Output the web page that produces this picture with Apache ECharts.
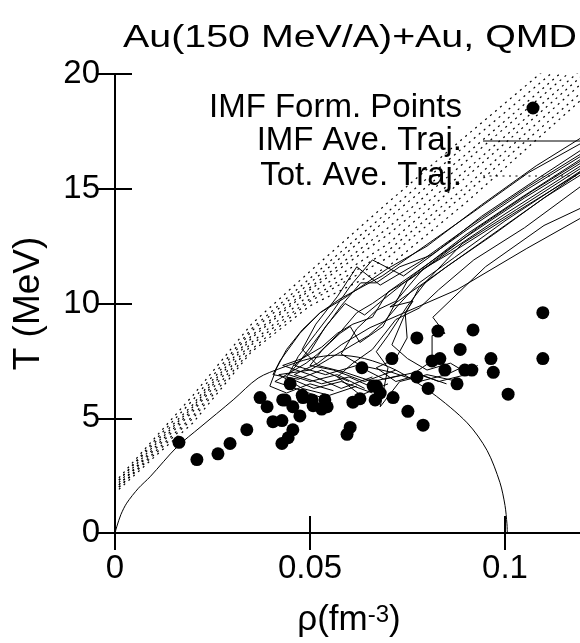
<!DOCTYPE html>
<html>
<head>
<meta charset="utf-8">
<script src="https://cdn.jsdelivr.net/npm/echarts@6/dist/echarts.min.js"></script>
<style>
  html, body { margin: 0; padding: 0; background: #fff; }
  #chart { width: 580px; height: 643px; }
</style>
</head>
<body>
<div id="chart"></div>
<script>
const FONT = '"Liberation Sans", Arial, Helvetica, sans-serif';

// axis ranges
const rhoMin = 0, rhoMax = 0.12, rhoStep = 0.05;
const tMin = 0, tMax = 20, tStep = 5;

const titleText = 'Au(150 MeV/A)+Au, QMD';
const legendLabels = ['IMF Form. Points', 'IMF Ave. Traj.', 'Tot. Ave. Traj.'];

// IMF formation points [rho, T]
const formationPoints = [
  [0.0164, 3.95], [0.021, 3.2], [0.0264, 3.45], [0.0295, 3.9], [0.0338, 4.5],
  [0.0372, 5.9], [0.039, 5.5], [0.0405, 4.85], [0.0428, 4.9], [0.0436, 5.8],
  [0.0449, 6.5], [0.0456, 5.5], [0.0456, 4.5], [0.0428, 3.9], [0.0444, 4.15],
  [0.048, 6.0], [0.0474, 5.1], [0.0505, 5.8], [0.053, 5.4], [0.0538, 5.8],
  [0.0508, 5.55], [0.0544, 5.5], [0.0633, 7.2], [0.061, 5.7], [0.0628, 5.85],
  [0.0603, 4.6], [0.0595, 4.3], [0.0667, 5.8], [0.067, 6.4], [0.068, 6.1],
  [0.0713, 5.9], [0.0751, 5.3], [0.0774, 8.5], [0.079, 4.7], [0.071, 7.6],
  [0.0774, 6.8], [0.0803, 6.3], [0.0813, 7.5], [0.0833, 7.6], [0.0828, 8.8],
  [0.0846, 7.1], [0.0877, 6.5], [0.0885, 8.0], [0.0897, 7.1], [0.0915, 7.1],
  [0.0918, 8.85], [0.0964, 7.6], [0.097, 7.0], [0.1008, 6.05], [0.1097, 9.6],
  [0.1097, 7.6], [0.0662, 6.4], [0.043, 5.8], [0.0482, 5.9]
];

// IMF average trajectories [rho, T]
const imfTraj01 = [[0.125, 17.8], [0.108, 16.0], [0.094, 14.3], [0.08, 12.5], [0.0697, 11.5], [0.0628, 10.7], [0.0585, 10.2], [0.0526, 9.6], [0.0474, 8.7], [0.0423, 7.5], [0.0405, 6.9], [0.047, 6.7], [0.053, 7.1], [0.06, 6.6]];
const imfTraj02 = [[0.125, 17.5], [0.106, 15.7], [0.092, 14.0], [0.0777, 12.3], [0.0685, 11.2], [0.0577, 10.2], [0.0526, 9.6], [0.048, 8.85], [0.044, 8.0], [0.0415, 7.2], [0.0397, 6.4], [0.044, 6.1], [0.05, 6.5], [0.056, 6.2]];
const imfTraj03 = [[0.125, 17.3], [0.108, 15.4], [0.094, 13.8], [0.082, 12.2], [0.074, 11.2], [0.066, 11.9], [0.0605, 10.8], [0.056, 9.7], [0.0515, 8.7], [0.047, 7.7], [0.0445, 6.9], [0.05, 6.6], [0.057, 6.9], [0.064, 6.3]];
const imfTraj04 = [[0.125, 17.1], [0.106, 15.1], [0.092, 13.5], [0.078, 11.8], [0.068, 10.8], [0.062, 11.6], [0.057, 10.3], [0.0515, 9.1], [0.048, 8.0], [0.052, 7.3], [0.059, 7.0], [0.066, 6.6], [0.074, 6.9]];
const imfTraj05 = [[0.125, 16.9], [0.104, 14.6], [0.09, 13.0], [0.077, 11.3], [0.069, 10.2], [0.064, 9.5], [0.059, 10.0], [0.054, 9.0], [0.05, 7.9], [0.046, 7.3], [0.054, 6.9], [0.062, 7.3], [0.069, 6.7], [0.077, 7.0]];
const imfTraj06 = [[0.125, 16.7], [0.105, 14.6], [0.09, 12.9], [0.0775, 11.4], [0.07, 10.5], [0.066, 9.4], [0.061, 9.1], [0.057, 8.7], [0.053, 8.1], [0.048, 7.6], [0.043, 7.3], [0.05, 6.9], [0.058, 6.3], [0.066, 6.8]];
const imfTraj07 = [[0.125, 16.6], [0.1, 13.9], [0.086, 12.3], [0.075, 11.0], [0.0687, 9.0], [0.0628, 8.3], [0.0603, 9.0], [0.0577, 8.7], [0.0533, 8.0], [0.05, 7.3], [0.056, 7.1], [0.064, 6.6], [0.072, 7.1]];
const imfTraj08 = [[0.125, 16.4], [0.1, 13.6], [0.087, 12.0], [0.078, 10.9], [0.073, 10.0], [0.069, 9.2], [0.065, 8.6], [0.06, 8.1], [0.055, 7.6], [0.05, 7.1], [0.042, 6.9], [0.048, 6.3], [0.055, 6.0], [0.062, 6.4]];
const imfTraj09 = [[0.125, 16.3], [0.102, 13.9], [0.088, 12.4], [0.079, 11.5], [0.072, 10.1], [0.067, 9.7], [0.062, 8.9], [0.058, 7.8], [0.063, 7.3], [0.071, 7.0], [0.078, 6.6], [0.085, 6.9], [0.09, 7.3]];
const imfTraj10 = [[0.125, 16.1], [0.1192, 15.7], [0.095, 12.8], [0.0705, 9.85], [0.0764, 10.1], [0.0744, 9.6], [0.0749, 8.5], [0.072, 7.6], [0.067, 7.2], [0.072, 6.6], [0.078, 6.9], [0.085, 6.5]];
const imfTraj11 = [[0.125, 14.6], [0.11, 13.4], [0.095, 11.6], [0.0815, 9.4], [0.0846, 8.7], [0.0813, 8.6], [0.0813, 7.5], [0.077, 7.0], [0.083, 6.6], [0.09, 6.9], [0.093, 7.3]];
const imfTraj12 = [[0.125, 14.0], [0.1192, 13.7], [0.1056, 12.4], [0.0877, 10.6], [0.0654, 8.95], [0.058, 8.2], [0.052, 7.4], [0.046, 6.9], [0.053, 6.5], [0.06, 6.8], [0.068, 6.2]];
const imfTraj13 = [[0.125, 16.5], [0.103, 14.1], [0.089, 12.6], [0.08, 11.0], [0.075, 9.9], [0.07, 8.6], [0.067, 7.9], [0.07, 7.2], [0.068, 5.5], [0.073, 6.6], [0.08, 6.9], [0.088, 6.6]];
const imfTraj14 = [[0.125, 16.8], [0.107, 14.9], [0.093, 13.3], [0.083, 12.0], [0.076, 11.1], [0.071, 10.6], [0.066, 10.0], [0.062, 9.6], [0.058, 8.8], [0.055, 8.3], [0.052, 7.8], [0.049, 7.4], [0.045, 7.0], [0.041, 6.6], [0.048, 6.2], [0.053, 5.9]];
const imfTraj15 = [[0.125, 17.0], [0.105, 14.9], [0.091, 13.3], [0.081, 12.1], [0.073, 11.6], [0.067, 10.9], [0.063, 10.9], [0.058, 9.9], [0.055, 9.2], [0.051, 8.3], [0.047, 7.4], [0.044, 6.8], [0.051, 6.3], [0.058, 6.6], [0.066, 6.1]];
const imfTraj16 = [[0.125, 16.2], [0.11, 14.6], [0.097, 13.0], [0.085, 11.6], [0.078, 10.7], [0.074, 9.4], [0.071, 8.2], [0.075, 7.6], [0.08, 7.1], [0.086, 7.4], [0.09, 7.0]];
const imfTraj17 = [[0.125, 15.8], [0.105, 13.3], [0.092, 11.9], [0.083, 10.6], [0.078, 9.8], [0.072, 9.3], [0.066, 8.0], [0.061, 7.4], [0.057, 6.8], [0.063, 6.0], [0.07, 6.5]];

// total average trajectories [rho, T]
const totTraj1 = [[0.001, 2.4], [0.01, 4.1], [0.02, 6.0], [0.035, 9.1], [0.05, 11.4], [0.07, 14.4], [0.09, 17.3], [0.125, 22.3]];
const totTraj2 = [[0.001, 2.3], [0.01, 4.0], [0.02, 5.8], [0.035, 8.9], [0.05, 11.1], [0.07, 14.0], [0.09, 16.9], [0.125, 21.9]];
const totTraj3 = [[0.001, 2.3], [0.01, 3.9], [0.02, 5.6], [0.035, 8.8], [0.05, 10.9], [0.07, 13.7], [0.09, 16.5], [0.125, 21.6]];
const totTraj4 = [[0.001, 2.2], [0.01, 3.8], [0.02, 5.5], [0.035, 8.6], [0.05, 10.7], [0.07, 13.3], [0.09, 16.2], [0.125, 21.3]];
const totTraj5 = [[0.001, 2.1], [0.01, 3.7], [0.02, 5.4], [0.035, 8.5], [0.05, 10.6], [0.07, 13.0], [0.09, 15.8], [0.125, 21.0]];
const totTraj6 = [[0.001, 2.1], [0.01, 3.6], [0.02, 5.3], [0.035, 8.3], [0.05, 10.4], [0.07, 12.6], [0.09, 15.5], [0.125, 20.7]];
const totTraj7 = [[0.001, 2.0], [0.01, 3.5], [0.02, 5.1], [0.035, 8.2], [0.05, 10.2], [0.07, 12.3], [0.09, 15.1], [0.125, 20.4]];
const totTraj8 = [[0.001, 2.0], [0.01, 3.4], [0.02, 5.0], [0.035, 8.0], [0.05, 10.1], [0.07, 12.0], [0.09, 14.8], [0.125, 20.0]];
const totTraj9 = [[0.001, 1.9], [0.01, 3.3], [0.02, 4.8], [0.035, 7.9], [0.05, 9.9], [0.07, 11.6], [0.09, 14.4], [0.125, 19.7]];

// coexistence curve [rho, T]
const coexistence = [
  [0, 0], [0.0005, 0.3], [0.0015, 0.8], [0.003, 1.3], [0.006, 1.95], [0.009, 2.45],
  [0.0159, 3.75], [0.0218, 4.6], [0.0303, 5.8], [0.0367, 6.75], [0.0428, 7.2],
  [0.05, 7.6], [0.057, 7.75], [0.064, 7.6], [0.072, 7.1], [0.0813, 6.1],
  [0.0903, 4.8], [0.0954, 3.6], [0.0987, 2.2], [0.1, 1.2], [0.1005, 0.4], [0.1006, 0]
];

const imfTrajectories = [imfTraj01, imfTraj02, imfTraj03, imfTraj04, imfTraj05, imfTraj06, imfTraj07,
  imfTraj08, imfTraj09, imfTraj10, imfTraj11, imfTraj12, imfTraj13, imfTraj14, imfTraj15, imfTraj16, imfTraj17];
const totTrajectories = [totTraj1, totTraj2, totTraj3, totTraj4, totTraj5, totTraj6, totTraj7, totTraj8, totTraj9];

const chart = echarts.init(document.getElementById('chart'));

const tickStyle = { inside: true, length: 17, lineStyle: { color: '#000', width: 2 } };
const lineAxis = { lineStyle: { color: '#000', width: 2 } };

const series = [];
imfTrajectories.forEach(d => series.push({
  type: 'line', data: d, symbol: 'none', silent: true,
  lineStyle: { color: '#000', width: 1 }
}));
totTrajectories.forEach(d => series.push({
  type: 'line', data: d, symbol: 'none', silent: true,
  lineStyle: { color: '#000', width: 1.2, type: [2, 4.5] }
}));
series.push({
  type: 'line', data: coexistence, symbol: 'none', silent: true, smooth: 0.3,
  lineStyle: { color: '#000', width: 1 }
});
series.push({
  type: 'scatter', data: formationPoints, symbol: 'circle', symbolSize: 13,
  itemStyle: { color: '#000', opacity: 1 }, silent: true
});

chart.setOption({
  animation: false,
  backgroundColor: '#fff',
  textStyle: { fontFamily: FONT },
  grid: { left: 115, right: -3, top: 74, bottom: 110, outerBoundsMode: 'none', containLabel: false },
  xAxis: [{
    type: 'value', min: rhoMin, max: rhoMax, interval: rhoStep,
    axisLine: lineAxis, axisTick: tickStyle, splitLine: { show: false },
    axisLabel: { color: '#000', fontSize: 33, fontFamily: FONT, margin: 19, showMaxLabel: false, formatter: v => String(v) },
    name: '{a|ρ(fm}{b|-3}{a|)}', nameLocation: 'middle', nameGap: 70,
    nameTextStyle: {
      rich: {
        a: { fontSize: 35, fontFamily: FONT, color: '#000' },
        b: { fontSize: 24, fontFamily: FONT, color: '#000', verticalAlign: 'top' }
      }
    }
  }, {
    type: 'value', position: 'top', min: rhoMin, max: rhoMax, interval: rhoStep,
    axisLine: lineAxis, axisTick: tickStyle, axisLabel: { show: false }, splitLine: { show: false }
  }],
  yAxis: [{
    type: 'value', min: tMin, max: tMax, interval: tStep,
    axisLine: lineAxis, axisTick: tickStyle, splitLine: { show: false },
    axisLabel: { color: '#000', fontSize: 33, fontFamily: FONT, margin: 15 },
    name: 'T (MeV)', nameLocation: 'middle', nameGap: 68,
    nameTextStyle: { fontSize: 37, fontFamily: FONT, color: '#000' }
  }, {
    type: 'value', position: 'right', min: tMin, max: tMax, interval: tStep,
    axisLine: lineAxis, axisTick: tickStyle, axisLabel: { show: false }, splitLine: { show: false }
  }],
  graphic: [
    { type: 'text', x: 350, y: 38, scaleX: 1.23, style: { text: titleText, font: '32px ' + FONT, fill: '#000', align: 'center', verticalAlign: 'middle' } },
    { type: 'text', x: 462, y: 108, style: { text: legendLabels[0], font: '33px ' + FONT, fill: '#000', align: 'right', verticalAlign: 'middle' } },
    { type: 'text', x: 462, y: 141, style: { text: legendLabels[1], font: '33px ' + FONT, fill: '#000', align: 'right', verticalAlign: 'middle' } },
    { type: 'text', x: 462, y: 176, style: { text: legendLabels[2], font: '33px ' + FONT, fill: '#000', align: 'right', verticalAlign: 'middle' } },
    { type: 'circle', shape: { cx: 533, cy: 108, r: 6.5 }, style: { fill: '#000' } },
    { type: 'line', shape: { x1: 483, y1: 141, x2: 583, y2: 141 }, style: { stroke: '#000', lineWidth: 1 } },
    { type: 'line', shape: { x1: 483, y1: 176, x2: 583, y2: 176 }, style: { stroke: '#000', lineWidth: 1.2, lineDash: [2, 4.5] } }
  ],
  series: series
});
</script>
</body>
</html>
